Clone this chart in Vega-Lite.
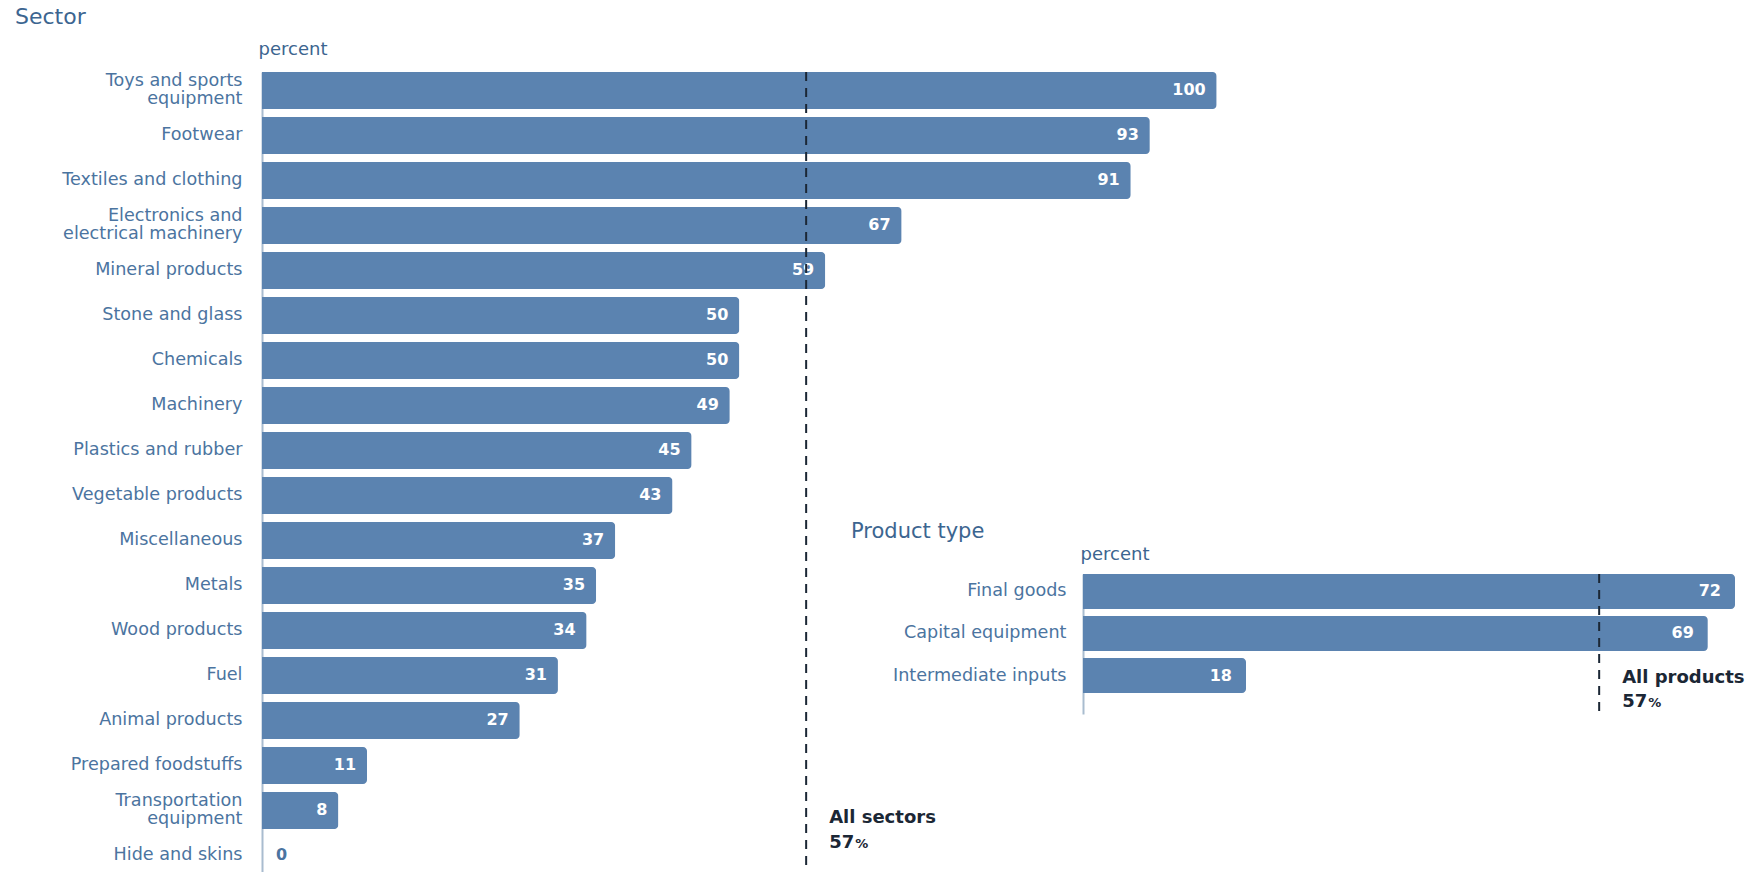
{
  "$schema": "https://vega.github.io/schema/vega-lite/v6.json",
  "background": "white",
  "padding": {"left": 15, "top": 6, "right": 0, "bottom": 0},
  "autosize": {"type": "pad"},
  "config": {
    "font": "DejaVu Sans",
    "view": {"stroke": null},
    "axis": {"grid": false, "ticks": false, "labelLimit": 320, "labelColor": "#4b74a0", "titleColor": "#3c6590", "domainColor": "#a9bccf", "domainWidth": 2, "labelFontSize": 17.6, "labelFontWeight": "normal", "titleFontSize": 18, "titleFontWeight": "normal"}
  },
  "datasets": {
    "sectors": [
      {"sector": "Toys and sports equipment", "value": 100},
      {"sector": "Footwear", "value": 93},
      {"sector": "Textiles and clothing", "value": 91},
      {"sector": "Electronics and electrical machinery", "value": 67},
      {"sector": "Mineral products", "value": 59},
      {"sector": "Stone and glass", "value": 50},
      {"sector": "Chemicals", "value": 50},
      {"sector": "Machinery", "value": 49},
      {"sector": "Plastics and rubber", "value": 45},
      {"sector": "Vegetable products", "value": 43},
      {"sector": "Miscellaneous", "value": 37},
      {"sector": "Metals", "value": 35},
      {"sector": "Wood products", "value": 34},
      {"sector": "Fuel", "value": 31},
      {"sector": "Animal products", "value": 27},
      {"sector": "Prepared foodstuffs", "value": 11},
      {"sector": "Transportation equipment", "value": 8},
      {"sector": "Hide and skins", "value": 0}
    ],
    "products": [
      {"type": "Final goods", "value": 72},
      {"type": "Capital equipment", "value": 69},
      {"type": "Intermediate inputs", "value": 18}
    ],
    "averages": [
      {"group": "All sectors", "value": 57},
      {"group": "All products", "value": 57}
    ]
  },
  "bounds": "flush",
  "spacing": 0,
  "hconcat": [
    {
      "width": 821,
      "height": 810,
      "title": {"text": "Sector", "anchor": "start", "frame": "group", "dx": -247, "fontSize": 22, "fontWeight": "normal", "color": "#3c6590", "offset": 11},
      "layer": [
        {
          "data": {"name": "sectors"},
          "mark": {"type": "bar", "color": "#5b83b0", "cornerRadiusEnd": 4},
          "encoding": {
            "x": {"field": "value", "type": "quantitative", "scale": {"domain": [0, 86], "nice": false}, "axis": {"orient": "top", "labels": false, "domain": false, "title": "percent", "titleAnchor": "start", "titleAlign": "left", "titleX": -4, "titlePadding": 14}},
            "y": {"field": "sector", "type": "nominal", "sort": null, "scale": {"paddingInner": 0.18, "paddingOuter": 0.09, "align": 0, "round": false}, "axis": {"title": null, "labelPadding": 20, "labelLineHeight": 18, "labelOffset": {"condition": {"test": "datum.value == 'Toys and sports equipment' || datum.value == 'Electronics and electrical machinery' || datum.value == 'Transportation equipment'", "value": -9}, "value": 0}, "labelExpr": "datum.value == 'Toys and sports equipment' ? ['Toys and sports', 'equipment'] : datum.value == 'Electronics and electrical machinery' ? ['Electronics and', 'electrical machinery'] : datum.value == 'Transportation equipment' ? ['Transportation', 'equipment'] : datum.value"}}
          }
        },
        {
          "data": {"name": "sectors"},
          "transform": [{"filter": "datum.value > 0"}],
          "mark": {"type": "text", "align": "right", "baseline": "middle", "dx": -11, "color": "white", "fontSize": 16, "fontWeight": "bold"},
          "encoding": {
            "x": {"field": "value", "type": "quantitative"},
            "y": {"field": "sector", "type": "nominal", "sort": null},
            "text": {"field": "value", "type": "quantitative"}
          }
        },
        {
          "data": {"name": "sectors"},
          "transform": [{"filter": "datum.value == 0"}],
          "mark": {"type": "text", "align": "left", "baseline": "middle", "dx": 14, "color": "#4b74a0", "fontSize": 16, "fontWeight": "bold"},
          "encoding": {
            "x": {"field": "value", "type": "quantitative"},
            "y": {"field": "sector", "type": "nominal", "sort": null},
            "text": {"field": "value", "type": "quantitative"}
          }
        },
        {
          "data": {"name": "averages"},
          "transform": [{"filter": "datum.group == 'All sectors'"}],
          "mark": {"type": "rule", "color": "#1b2735", "strokeWidth": 2, "strokeDash": [9, 7]},
          "encoding": {
            "x": {"field": "value", "type": "quantitative"}
          }
        },
        {
          "data": {"name": "averages"},
          "transform": [{"filter": "datum.group == 'All sectors'"}],
          "mark": {"type": "text", "align": "left", "baseline": "middle", "dx": 23, "dy": 8, "color": "#1b2735", "fontSize": 18, "fontWeight": "bold"},
          "encoding": {
            "x": {"field": "value", "type": "quantitative"},
            "y": {"datum": "Transportation equipment", "type": "nominal"},
            "text": {"field": "group"}
          }
        },
        {
          "data": {"name": "averages"},
          "transform": [{"filter": "datum.group == 'All sectors'"}],
          "mark": {"type": "text", "align": "left", "baseline": "alphabetic", "dx": 23, "dy": 37.5, "color": "#1b2735", "fontSize": 18, "fontWeight": "bold"},
          "encoding": {
            "x": {"field": "value", "type": "quantitative"},
            "y": {"datum": "Transportation equipment", "type": "nominal"},
            "text": {"field": "value", "type": "quantitative"}
          }
        },
        {
          "data": {"name": "averages"},
          "transform": [{"filter": "datum.group == 'All sectors'"}],
          "mark": {"type": "text", "align": "left", "baseline": "alphabetic", "dx": 49, "dy": 37.5, "color": "#1b2735", "fontSize": 13, "fontWeight": "bold", "text": "%"},
          "encoding": {
            "x": {"field": "value", "type": "quantitative"},
            "y": {"datum": "Transportation equipment", "type": "nominal"}
          }
        }
      ]
    },
    {
      "bounds": "flush",
      "spacing": 0,
      "vconcat": [
        {
          "width": 10,
          "height": 501.6,
          "data": {"values": []},
          "mark": "point"
        },
        {
          "width": 652,
          "height": 140,
          "title": {"text": "Product type", "anchor": "start", "frame": "group", "dx": -232, "fontSize": 21, "fontWeight": "normal", "color": "#3c6590", "offset": 3},
          "layer": [
            {
              "data": {"name": "products"},
              "mark": {"type": "bar", "color": "#5b83b0", "cornerRadiusEnd": 4},
              "encoding": {
                "x": {"field": "value", "type": "quantitative", "scale": {"domain": [0, 72], "nice": false}, "axis": {"orient": "top", "labels": false, "domain": false, "title": "percent", "titleAnchor": "start", "titleAlign": "left", "titleX": -3, "titlePadding": 11}},
                "y": {"field": "type", "type": "nominal", "sort": null, "scale": {"paddingInner": 0.167, "paddingOuter": 0.25, "align": 0, "round": false}, "axis": {"title": null, "labelPadding": 17}}
              }
            },
            {
              "data": {"name": "products"},
              "mark": {"type": "text", "align": "right", "baseline": "middle", "dx": -14, "color": "white", "fontSize": 16, "fontWeight": "bold"},
              "encoding": {
                "x": {"field": "value", "type": "quantitative"},
                "y": {"field": "type", "type": "nominal", "sort": null},
                "text": {"field": "value", "type": "quantitative"}
              }
            },
            {
              "data": {"name": "averages"},
              "transform": [{"filter": "datum.group == 'All products'"}],
              "mark": {"type": "rule", "color": "#1b2735", "strokeWidth": 2, "strokeDash": [9, 7]},
              "encoding": {
                "x": {"field": "value", "type": "quantitative"}
              }
            },
            {
              "data": {"name": "averages"},
              "transform": [{"filter": "datum.group == 'All products'"}],
              "mark": {"type": "text", "align": "left", "baseline": "middle", "dx": 23, "dy": 2, "color": "#1b2735", "fontSize": 18, "fontWeight": "bold"},
              "encoding": {
                "x": {"field": "value", "type": "quantitative"},
                "y": {"datum": "Intermediate inputs", "type": "nominal"},
                "text": {"field": "group"}
              }
            },
            {
              "data": {"name": "averages"},
              "transform": [{"filter": "datum.group == 'All products'"}],
              "mark": {"type": "text", "align": "left", "baseline": "alphabetic", "dx": 23, "dy": 31.5, "color": "#1b2735", "fontSize": 18, "fontWeight": "bold"},
              "encoding": {
                "x": {"field": "value", "type": "quantitative"},
                "y": {"datum": "Intermediate inputs", "type": "nominal"},
                "text": {"field": "value", "type": "quantitative"}
              }
            },
            {
              "data": {"name": "averages"},
              "transform": [{"filter": "datum.group == 'All products'"}],
              "mark": {"type": "text", "align": "left", "baseline": "alphabetic", "dx": 49, "dy": 31.5, "color": "#1b2735", "fontSize": 13, "fontWeight": "bold", "text": "%"},
              "encoding": {
                "x": {"field": "value", "type": "quantitative"},
                "y": {"datum": "Intermediate inputs", "type": "nominal"}
              }
            }
          ]
        }
      ]
    }
  ]
}
